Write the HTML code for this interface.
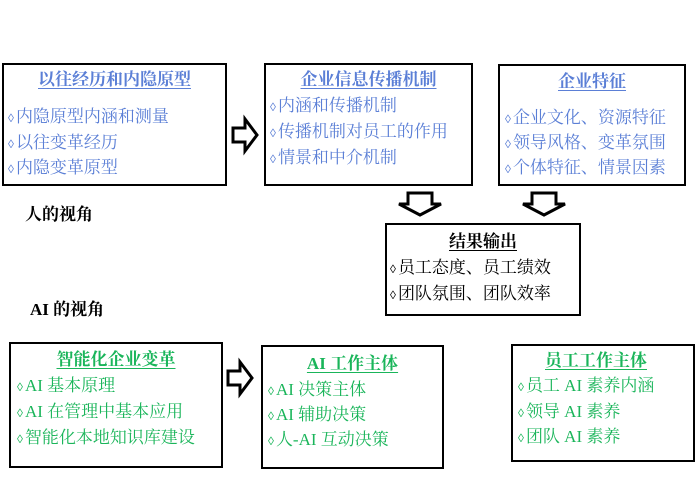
<!DOCTYPE html><html><head><meta charset="utf-8"><style>
body{margin:0;width:695px;height:477px;background:#fff;position:relative;overflow:hidden;font-family:"Liberation Serif","Noto Serif CJK SC",serif}
.b{position:absolute;border:2px solid #000;box-sizing:border-box}
.t{position:absolute;white-space:nowrap;font-size:17px;line-height:20px;font-family:"Liberation Serif","Noto Serif CJK SC","WenQuanYi Zen Hei",serif}
.t i{font-style:normal;font-size:12px;margin-right:2px}
.bl{color:#5b7fd6}.gr{color:#1ab55a}.bk{color:#000}
.h{font-weight:bold;text-decoration:underline;text-underline-offset:3px}
</style></head><body>
<div class="b" style="left:2px;top:63px;width:225px;height:123px"></div>
<div class="b" style="left:264px;top:63px;width:209px;height:123px"></div>
<div class="b" style="left:498px;top:64px;width:188px;height:122px"></div>
<div class="b" style="left:385px;top:223px;width:196px;height:93px"></div>
<div class="b" style="left:9px;top:342px;width:214px;height:126px"></div>
<div class="b" style="left:261px;top:345px;width:183px;height:124px"></div>
<div class="b" style="left:511px;top:344px;width:184px;height:118px"></div>

<div class="t bl h" style="left:0;width:229px;text-align:center;top:70px">以往经历和内隐原型</div>
<div class="t bl" style="left:8px;top:107px"><i>◊</i>内隐原型内涵和测量</div>
<div class="t bl" style="left:8px;top:133px"><i>◊</i>以往变革经历</div>
<div class="t bl" style="left:8px;top:158px"><i>◊</i>内隐变革原型</div>

<div class="t bl h" style="left:264px;width:209px;text-align:center;top:70px">企业信息传播机制</div>
<div class="t bl" style="left:270px;top:96px"><i>◊</i>内涵和传播机制</div>
<div class="t bl" style="left:270px;top:122px"><i>◊</i>传播机制对员工的作用</div>
<div class="t bl" style="left:270px;top:148px"><i>◊</i>情景和中介机制</div>

<div class="t bl h" style="left:498px;width:188px;text-align:center;top:72px">企业特征</div>
<div class="t bl" style="left:505px;top:108px"><i>◊</i>企业文化、资源特征</div>
<div class="t bl" style="left:505px;top:133px"><i>◊</i>领导风格、变革氛围</div>
<div class="t bl" style="left:505px;top:158px"><i>◊</i>个体特征、情景因素</div>

<div class="t bk" style="left:25px;top:205px;font-weight:bold">人的视角</div>
<div class="t bk" style="left:30px;top:300px;font-weight:bold">AI 的视角</div>

<div class="t bk h" style="left:385px;width:196px;text-align:center;top:232px">结果输出</div>
<div class="t bk" style="left:390px;top:258px"><i>◊</i>员工态度、员工绩效</div>
<div class="t bk" style="left:390px;top:284px"><i>◊</i>团队氛围、团队效率</div>

<div class="t gr h" style="left:9px;width:214px;text-align:center;top:350px">智能化企业变革</div>
<div class="t gr" style="left:17px;top:376px"><i>◊</i>AI 基本原理</div>
<div class="t gr" style="left:17px;top:402px"><i>◊</i>AI 在管理中基本应用</div>
<div class="t gr" style="left:17px;top:428px"><i>◊</i>智能化本地知识库建设</div>

<div class="t gr h" style="left:261px;width:183px;text-align:center;top:354px">AI 工作主体</div>
<div class="t gr" style="left:268px;top:380px"><i>◊</i>AI 决策主体</div>
<div class="t gr" style="left:268px;top:405px"><i>◊</i>AI 辅助决策</div>
<div class="t gr" style="left:268px;top:430px"><i>◊</i>人-AI 互动决策</div>

<div class="t gr h" style="left:545px;top:351px">员工工作主体</div>
<div class="t gr" style="left:518px;top:376px"><i>◊</i>员工 AI 素养内涵</div>
<div class="t gr" style="left:518px;top:402px"><i>◊</i>领导 AI 素养</div>
<div class="t gr" style="left:518px;top:427px"><i>◊</i>团队 AI 素养</div>

<svg width="695" height="477" style="position:absolute;left:0;top:0" fill="#fff" stroke="#000" stroke-width="3">
<path d="M233 128 H245 V119 L257 135 L245 151 V142 H233 Z"/>
<path d="M228 371 H240 V362 L252 378 L240 394 V385 H228 Z"/>
<path d="M408 193 V204 H399 L420 215 L441 204 H432 V193 Z"/>
<path d="M532 193 V204 H523 L544 215 L565 204 H556 V193 Z"/>
</svg>
</body></html>
